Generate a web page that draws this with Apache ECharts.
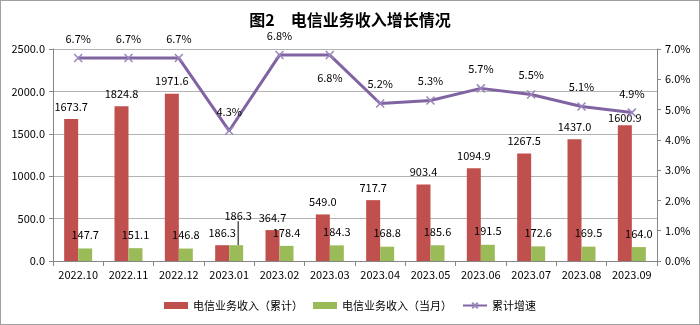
<!DOCTYPE html>
<html><head><meta charset="utf-8">
<script src="https://cdn.jsdelivr.net/npm/echarts@6/dist/echarts.min.js"></script>
<style>html,body{margin:0;padding:0;background:#fff}#c{width:700px;height:325px;box-sizing:border-box;border:1px solid #a0a0a0}</style>
</head><body><div id="c"></div>
<script>
var categories = ['2022.10','2022.11','2022.12','2023.01','2023.02','2023.03','2023.04','2023.05','2023.06','2023.07','2023.08','2023.09'];
var cumulative = [1673.7,1824.8,1971.6,186.3,364.7,549.0,717.7,903.4,1094.9,1267.5,1437.0,1600.9];
var monthly = [147.7,151.1,146.8,186.3,178.4,184.3,168.8,185.6,191.5,172.6,169.5,164.0];
var growth = [6.7,6.7,6.7,4.3,6.8,6.8,5.2,5.3,5.7,5.5,5.1,4.9];

var chart = echarts.init(document.getElementById('c'));
var font = '"Noto Sans CJK SC", "Liberation Sans", sans-serif';
var xSym = 'path://M0,0L10,10M10,0L0,10';
var monthlyData = monthly.map(function(v, i){
  if (i === 3) return {value: v, labelLine: {show: true, lineStyle: {color: '#000', width: 1}}};
  return {value: v};
});
var cumData = cumulative.map(function(v, i){
  if (i === 11) return {value: v, label: {distance: 2}};
  return {value: v};
});
var growthData = growth.map(function(v, i){
  if (i === 5) return {value: v, label: {position: 'bottom', distance: 13}};
  return {value: v};
});
chart.setOption({
  animation: false,
  textStyle: {fontFamily: font},
  title: {text: '图2　电信业务收入增长情况', left: 'center', top: 6,
    textStyle: {fontSize: 16, fontWeight: 'bold', color: '#000', fontFamily: font}},
  grid: {left: 52, right: 42, top: 48, bottom: 63},
  legend: {bottom: 8, left: 'center', itemWidth: 24, itemHeight: 7, itemGap: 10,
    textStyle: {fontSize: 11, color: '#000', fontFamily: font},
    data: [{name:'电信业务收入（累计）', icon:'rect'}, {name:'电信业务收入（当月）', icon:'rect'}, {name:'累计增速'}]},
  xAxis: {type: 'category', data: categories, boundaryGap: true,
    axisLine: {lineStyle: {color: '#868686'}},
    axisTick: {show: true, alignWithLabel: false, length: 5, lineStyle: {color: '#868686'}},
    axisLabel: {color: '#000', fontSize: 11, margin: 8, interval: 0}},
  yAxis: [
    {type: 'value', min: 0, max: 2500, interval: 500,
      axisLine: {show: true, lineStyle: {color: '#868686'}},
      axisTick: {show: true, length: 4, lineStyle: {color: '#868686'}},
      axisLabel: {color: '#000', fontSize: 11, formatter: function(v){return v.toFixed(1);}},
      splitLine: {show: true, lineStyle: {color: '#b3b3b3'}}},
    {type: 'value', min: 0, max: 7, interval: 1, position: 'right',
      axisLine: {show: true, lineStyle: {color: '#868686'}},
      axisTick: {show: true, length: 4, lineStyle: {color: '#868686'}},
      axisLabel: {color: '#000', fontSize: 11, formatter: function(v){return v.toFixed(1)+'%';}},
      splitLine: {show: false}}
  ],
  series: [
    {name: '电信业务收入（累计）', type: 'bar', data: cumData, barWidth: 14, barGap: '0%',
      itemStyle: {color: '#c0504d'},
      label: {show: true, position: 'top', distance: 7, color: '#000', fontSize: 11,
        formatter: function(p){return p.value.toFixed(1);}}},
    {name: '电信业务收入（当月）', type: 'bar', data: monthlyData, barWidth: 14,
      itemStyle: {color: '#9bbb59'},
      label: {show: true, position: 'top', distance: 8, color: '#000', fontSize: 11,
        formatter: function(p){return p.value.toFixed(1);}},
      labelLayout: function(p){ if (p.dataIndex === 3) return {dy: -16, dx: 2}; return {}; }},
    {name: '累计增速', type: 'line', yAxisIndex: 1, data: growthData,
      symbol: xSym, symbolSize: 8,
      lineStyle: {color: '#8064a2', width: 3},
      itemStyle: {color: '#8064a2', borderColor: '#9a86bb', borderWidth: 1.5},
      label: {show: true, position: 'top', distance: 9, color: '#000', fontSize: 11,
        formatter: function(p){return p.value.toFixed(1)+'%';}}}
  ]
});
</script></body></html>
